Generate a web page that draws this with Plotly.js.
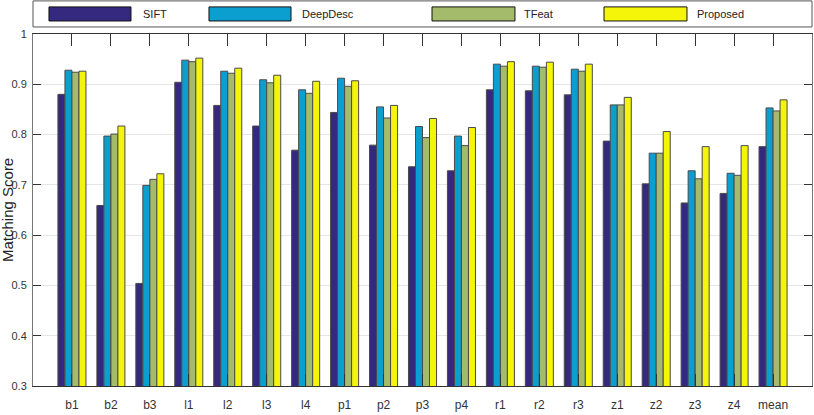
<!DOCTYPE html>
<html>
<head>
<meta charset="utf-8">
<script src="https://cdn.plot.ly/plotly-3.0.1.min.js"></script>
<style>
  body { margin: 0; background: #fff; }
  #chart { width: 814px; height: 415px; }
</style>
</head>
<body>
<div id="chart"></div>
<script>
const categories = ["b1", "b2", "b3", "l1", "l2", "l3", "l4", "p1", "p2", "p3", "p4",
                    "r1", "r2", "r3", "z1", "z2", "z3", "z4", "mean"]

const siftScores     = [0.880, 0.659, 0.504, 0.904, 0.858, 0.817, 0.769, 0.844, 0.779, 0.736, 0.728,
                        0.889, 0.887, 0.879, 0.787, 0.702, 0.664, 0.683, 0.776]
const deepDescScores = [0.928, 0.797, 0.699, 0.948, 0.926, 0.909, 0.889, 0.912, 0.855, 0.816, 0.797,
                        0.940, 0.936, 0.930, 0.859, 0.763, 0.728, 0.723, 0.853]
const tfeatScores    = [0.924, 0.801, 0.711, 0.945, 0.922, 0.903, 0.882, 0.896, 0.833, 0.794, 0.778,
                        0.936, 0.934, 0.926, 0.859, 0.763, 0.712, 0.719, 0.847]
const proposedScores = [0.926, 0.817, 0.722, 0.952, 0.932, 0.918, 0.906, 0.907, 0.858, 0.832, 0.814,
                        0.945, 0.944, 0.940, 0.874, 0.806, 0.776, 0.778, 0.869]

const seriesNames = ["SIFT", "DeepDesc", "TFeat", "Proposed"]
const seriesColors = ["#34297f", "#0a9fcf", "#a3bb6a", "#f5f50a"]
const yTicks = [0.3, 0.4, 0.5, 0.6, 0.7, 0.8, 0.9, 1]
const yTickText = ["0.3", "0.4", "0.5", "0.6", "0.7", "0.8", "0.9", "1"]

const narrow = "Liberation Sans Narrow, Arial Narrow, Liberation Sans, Arial, sans-serif"

let allScores = [siftScores, deepDescScores, tfeatScores, proposedScores]

let data = allScores.map(function (scores, i) {
    return {
        type: "bar",
        name: seriesNames[i],
        x: categories.map((c, k) => k),
        y: scores,
        marker: {
            color: seriesColors[i],
            line: {color: "#4a4a4a", width: 1}
        },
        hoverinfo: "y"
    }
})

// hand-drawn legend box like the matlab one (wide swatches)
let legendSwatchX = [[0.0205, 0.1258], [0.2259, 0.3312], [0.5122, 0.6187], [0.7330, 0.8395]]
let legendTextX = [0.1386, 0.3427, 0.6278, 0.8498]

let shapes = [{
    type: "rect", xref: "paper", yref: "paper",
    x0: 0, x1: 1, y0: 1.020, y1: 1.094,
    line: {color: "#555", width: 1}, fillcolor: "#fff"
}]
let annotations = []
seriesNames.forEach(function (name, i) {
    shapes.push({
        type: "rect", xref: "paper", yref: "paper",
        x0: legendSwatchX[i][0], x1: legendSwatchX[i][1], y0: 1.037, y1: 1.077,
        line: {color: "#111", width: 1}, fillcolor: seriesColors[i]
    })
    annotations.push({
        xref: "paper", yref: "paper", x: legendTextX[i], y: 1.057,
        xanchor: "left", yanchor: "middle", showarrow: false,
        text: name, font: {family: narrow, size: 11, color: "#222"}
    })
})

// y title as an annotation so it can sit right at the edge
annotations.push({
    xref: "paper", yref: "paper", x: 0, y: 0.5, xshift: -26,
    xanchor: "center", yanchor: "middle", showarrow: false, textangle: -90,
    text: "Matching Score",
    font: {family: "Liberation Sans, Arial, sans-serif", size: 15, color: "#222"}
})

let layout = {
    width: 814,
    height: 415,
    margin: {l: 33, r: 2, t: 34, b: 29},
    paper_bgcolor: "#fff",
    plot_bgcolor: "#fff",
    showlegend: false,
    barmode: "group",
    bargap: 0.28,
    bargroupgap: 0,
    font: {family: narrow, size: 12, color: "#333"},
    xaxis: {
        range: [-1, 19],
        tickvals: categories.map((c, k) => k),
        ticktext: categories,
        ticks: "inside",
        ticklen: 12,
        tickcolor: "#333",
        showline: true,
        linecolor: "#333",
        linewidth: 1,
        mirror: "ticks",
        showgrid: false,
        zeroline: false,
        ticklabelstandoff: 8,
        tickfont: {family: narrow, size: 12, color: "#333"}
    },
    yaxis: {
        range: [0.3, 1],
        tickvals: yTicks,
        ticktext: yTickText,
        ticks: "inside",
        ticklen: 8,
        tickcolor: "#333",
        showline: true,
        linecolor: "#777",
        linewidth: 1,
        mirror: "ticks",
        showgrid: true,
        gridcolor: "#e6e6e6",
        gridwidth: 1,
        zeroline: false,
        ticklabelstandoff: 3,
        tickfont: {family: narrow, size: 11, color: "#333"}
    },
    shapes: shapes,
    annotations: annotations
}

Plotly.newPlot("chart", data, layout, {displayModeBar: false, staticPlot: true})
</script>
</body>
</html>
